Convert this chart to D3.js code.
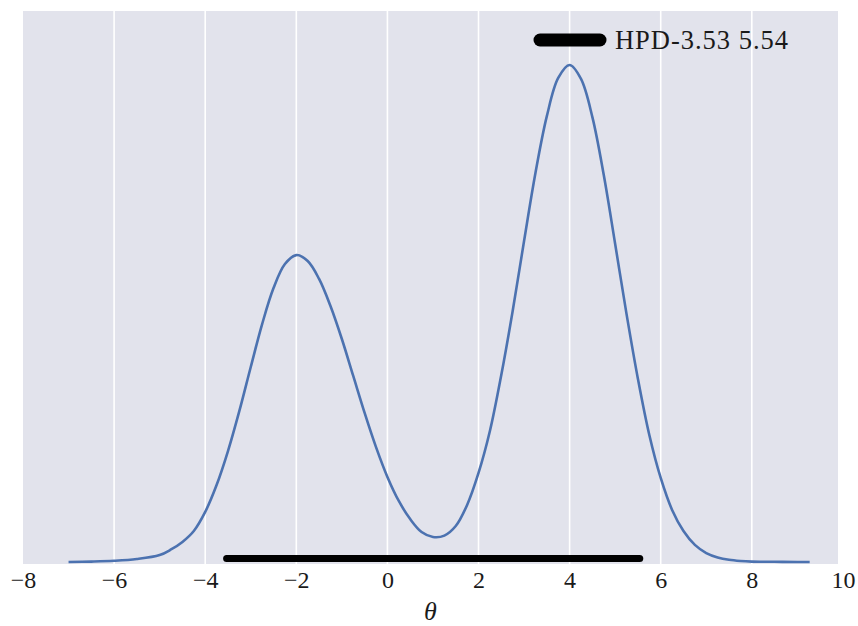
<!DOCTYPE html>
<html>
<head>
<meta charset="utf-8">
<script src="https://cdn.jsdelivr.net/npm/d3@7"></script>
<style>
  html, body { margin: 0; padding: 0; background: #ffffff; }
  svg { display: block; }
</style>
</head>
<body>
<svg id="chart" width="858" height="626"></svg>
<script>
// ---- data ----
const theta = [-7.0, -6.5, -6.0, -5.5, -5.0, -4.75, -4.5, -4.25, -4.0, -3.75, -3.5, -3.25, -3.0, -2.75, -2.5, -2.25,
  -2.0, -1.75, -1.5, -1.25, -1.0, -0.75, -0.5, -0.25, 0.0, 0.25, 0.5, 0.75, 1.0, 1.25, 1.5, 1.75,
  2.0, 2.25, 2.5, 2.75, 3.0, 3.25, 3.5, 3.75, 4.0, 4.25, 4.5, 4.75, 5.0, 5.25, 5.5, 5.75, 6.0,
  6.25, 6.5, 6.75, 7.0, 7.25, 7.5, 7.75, 8.0, 8.5, 9.0, 9.27];
const density = [0.0000, 0.0002, 0.0006, 0.0015, 0.0035, 0.0063, 0.0101, 0.0156, 0.0252, 0.0387, 0.0558, 0.0760, 0.0981, 0.1197, 0.1378, 0.1499,
  0.1544, 0.1514, 0.1424, 0.1288, 0.1122, 0.0936, 0.0750, 0.0578, 0.0428, 0.0307, 0.0216, 0.0151, 0.0126, 0.0133, 0.0181, 0.0287,
  0.0448, 0.0659, 0.0941, 0.1263, 0.1615, 0.1957, 0.2243, 0.2435, 0.2500, 0.2430, 0.2238, 0.1947, 0.1600, 0.1247, 0.0921, 0.0639, 0.0423,
  0.0262, 0.0156, 0.0086, 0.0045, 0.0023, 0.0011, 0.0005, 0.0002, 0.0001, 0.0000, 0.0000];
const hpdInterval = [-3.53, 5.54];
const hpdLabel = "HPD-3.53 5.54";
const xTicks = [-8, -6, -4, -2, 0, 2, 4, 6, 8, 10];
const xTickLabels = ["\u22128", "\u22126", "\u22124", "\u22122", "0", "2", "4", "6", "8", "10"];
const xLabel = "\u03b8";

// ---- layout ----
const svg = d3.select("#chart");
const plot = { left: 23, right: 838, top: 11, bottom: 564 };

const x = d3.scaleLinear().domain([-8, 9.892]).range([plot.left, plot.right]);
const y = d3.scaleLinear().domain([-0.001, 0.2772]).range([plot.bottom, plot.top]);

const serif = "'Liberation Serif', 'Times New Roman', serif";

// background
svg.append("rect")
  .attr("x", plot.left).attr("y", plot.top)
  .attr("width", plot.right - plot.left).attr("height", plot.bottom - plot.top)
  .attr("fill", "#e2e3ec");

// vertical grid lines
svg.append("g").selectAll("line")
  .data(xTicks.filter(t => x(t) > plot.left + 1 && x(t) < plot.right - 1))
  .join("line")
  .attr("x1", d => x(d)).attr("x2", d => x(d))
  .attr("y1", plot.top).attr("y2", plot.bottom)
  .attr("stroke", "#ffffff").attr("stroke-width", 1.6);

// density curve
const pts = theta.map((t, i) => [t, density[i]]);
svg.append("path")
  .datum(pts)
  .attr("fill", "none")
  .attr("stroke", "#4c72b0")
  .attr("stroke-width", 2.6)
  .attr("stroke-linejoin", "round")
  .attr("d", d3.line().x(d => x(d[0])).y(d => y(d[1])).curve(d3.curveCatmullRom.alpha(0.5)));

// HPD bar
svg.append("line")
  .attr("x1", x(hpdInterval[0])).attr("x2", x(hpdInterval[1]))
  .attr("y1", y(0) - 3.5).attr("y2", y(0) - 3.5)
  .attr("stroke", "#000000").attr("stroke-width", 7)
  .attr("stroke-linecap", "round");

// x axis (labels only)
const axis = d3.axisBottom(x)
  .tickValues(xTicks)
  .tickFormat((d, i) => xTickLabels[i])
  .tickSize(0)
  .tickPadding(0);
const gx = svg.append("g").attr("transform", `translate(0,${plot.bottom})`).call(axis);
gx.select(".domain").remove();
gx.selectAll("text")
  .attr("dy", null)
  .attr("y", 24)
  .attr("font-family", serif)
  .attr("font-size", 24)
  .attr("fill", "#1a1a1a");

// x label
svg.append("text")
  .attr("x", (plot.left + plot.right) / 2)
  .attr("y", 619.5)
  .attr("text-anchor", "middle")
  .attr("font-family", serif)
  .attr("font-style", "italic")
  .attr("font-size", 26)
  .attr("fill", "#1a1a1a")
  .text(xLabel);

// legend
const lg = svg.append("g");
lg.append("line")
  .attr("x1", 540).attr("x2", 600)
  .attr("y1", 40).attr("y2", 40)
  .attr("stroke", "#000000").attr("stroke-width", 13)
  .attr("stroke-linecap", "round");
lg.append("text")
  .attr("x", 615).attr("y", 48.5)
  .attr("font-family", serif)
  .attr("font-size", 26.5)
  .attr("textLength", 173)
  .attr("lengthAdjust", "spacing")
  .attr("fill", "#1a1a1a")
  .text(hpdLabel);
</script>
</body>
</html>
